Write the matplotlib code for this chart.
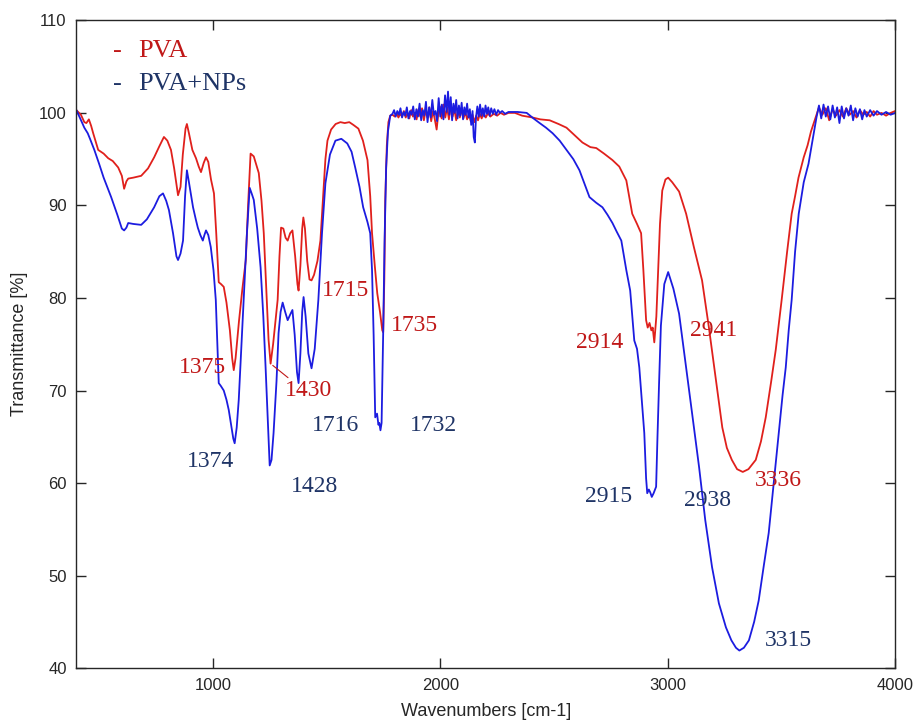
"""
FTIR spectra of PVA and PVA+NPs films
"""

import numpy as np
import matplotlib.pyplot as plt

# PVA spectrum (wavenumber, transmittance)
pva_wn = [
    400, 420, 435, 444, 455, 465, 474, 496, 520, 540, 560, 584, 600, 610, 620, 628,
    650, 685, 715, 742, 765, 785, 800, 816, 830, 847, 858, 868, 880, 886, 895, 910,
    926, 938, 948, 960, 970, 980, 992, 1005, 1015, 1026, 1036, 1048, 1060, 1075,
    1085, 1092, 1100, 1115, 1130, 1145, 1155, 1166, 1180, 1190, 1202, 1214, 1224,
    1235, 1245, 1254, 1265, 1285, 1293, 1300, 1310, 1320, 1329, 1340, 1350, 1362,
    1372, 1377, 1385, 1393, 1398, 1405, 1415, 1425, 1434, 1445, 1460, 1473, 1485,
    1495, 1504, 1520, 1540, 1561, 1580, 1600, 1618, 1640, 1660, 1680, 1692, 1700,
    1712, 1723, 1735, 1745, 1749, 1754, 1758, 1765, 1772, 1780,
    1790, 1800, 1808, 1816, 1824, 1832, 1840, 1848, 1856, 1864, 1872, 1880, 1888,
    1896, 1904, 1912, 1920, 1928, 1936, 1944, 1952, 1960, 1968, 1976, 1984, 1990,
    1998, 2006, 2014, 2022, 2030, 2038, 2046, 2054, 2062, 2070, 2078, 2086, 2094,
    2102, 2110, 2118, 2126, 2134, 2142, 2150, 2158, 2166, 2174, 2182, 2190, 2200,
    2210, 2220, 2235, 2250, 2265, 2280, 2300, 2328, 2360, 2406, 2440,
    2481, 2520, 2555, 2590, 2625, 2660, 2686, 2720, 2757, 2787, 2818, 2844, 2865,
    2883, 2893, 2905, 2912, 2920, 2928, 2934, 2941, 2950, 2958, 2966, 2976, 2990,
    3002, 3020, 3050, 3081, 3115, 3151, 3180, 3212, 3240, 3260, 3282, 3305, 3330,
    3355, 3387, 3410, 3431, 3455, 3475, 3501, 3525, 3545, 3560, 3575, 3598, 3615,
    3630, 3650, 3665, 3680, 3695, 3710, 3725, 3740, 3755, 3770, 3785, 3800, 3815,
    3830, 3845, 3860, 3875, 3890, 3905, 3920, 3940, 3960, 3980, 4000,
]
pva_t = [
    100.3, 99.8, 99.0, 98.9, 99.3, 98.6, 97.8, 96.0, 95.6, 95.1, 94.8, 94.1, 93.2,
    91.8, 92.6, 92.9, 93.0, 93.2, 94.0, 95.2, 96.4, 97.4, 97.0, 96.0, 94.0, 91.1,
    92.0, 95.5, 98.3, 98.8, 97.8, 96.0, 95.1, 94.2, 93.6, 94.6, 95.2, 94.7, 92.8,
    91.3, 87.0, 81.7, 81.5, 81.2, 79.5, 76.5, 73.5, 72.2, 73.5, 77.5, 81.0, 84.1,
    90.0, 95.6, 95.3, 94.5, 93.5, 90.5, 87.0, 81.0, 75.5, 72.9, 75.0, 79.8, 84.5,
    87.6, 87.5, 86.5, 86.2, 87.0, 87.3, 84.5, 81.5, 80.8, 83.5, 87.5, 88.7, 87.5,
    84.0, 82.0, 81.9, 82.5, 84.0, 86.2, 91.0, 95.0, 97.0, 98.2, 98.8, 99.0, 98.9,
    99.0, 98.7, 98.3, 97.0, 94.9, 91.0, 87.0, 83.5, 80.5, 78.5, 76.5, 76.3, 82.0,
    90.5, 96.5, 99.0, 99.7,
    99.8, 99.6, 100.0, 99.5, 99.9, 99.6, 100.2, 99.5, 100.0, 99.4, 100.3, 99.6,
    100.0, 99.3, 100.4, 99.6, 100.5, 99.2, 100.3, 99.5, 100.6, 99.1, 100.2, 99.3,
    98.2, 99.6, 100.7, 99.4, 100.9, 99.5, 100.6, 99.3, 100.8, 99.6, 100.4, 99.2,
    100.3, 99.5, 100.5, 99.4, 100.1, 99.3, 99.9, 99.1, 99.8, 99.0, 99.7, 99.2,
    99.9, 99.4, 100.0, 99.5, 100.0, 99.6, 99.9, 99.7, 100.0, 99.8, 100.0,
    100.0, 99.7, 99.5, 99.3, 99.2, 98.8, 98.4, 97.6, 96.8, 96.3, 96.2, 95.6, 94.9,
    94.2, 92.7, 89.1, 88.0, 87.0, 83.0, 77.6, 76.8, 77.3, 76.5, 76.8, 75.2, 78.0,
    83.0, 88.0, 91.6, 92.8, 93.0, 92.5, 91.5, 89.1, 85.5, 81.9, 77.0, 71.1, 66.0,
    63.8, 62.5, 61.5, 61.2, 61.5, 62.5, 64.5, 67.1, 71.0, 74.4, 79.8, 85.0, 89.1,
    91.0, 93.0, 95.2, 96.5, 98.0, 99.5, 100.6, 99.8, 100.5, 99.2, 100.4, 99.7,
    100.3, 99.6, 100.5, 99.8, 100.2, 99.5, 100.3, 99.8, 100.1, 99.6, 100.2, 99.8,
    100.0, 99.7, 100.0, 100.2,
]

# PVA+NPs spectrum
np_wn = [
    400, 415, 435, 450, 460, 479, 500, 520, 553, 580, 600, 610, 620, 628, 650, 685,
    710, 742, 765, 781, 795, 807, 825, 840, 847, 858, 869, 878, 886, 895, 913, 925,
    934, 945, 956, 963, 970, 980, 991, 1003, 1013, 1020, 1026, 1035, 1048, 1060,
    1070, 1082, 1090, 1096, 1105, 1114, 1125, 1136, 1150, 1162, 1172, 1180, 1195,
    1210, 1222, 1232, 1242, 1250, 1258, 1267, 1280, 1289, 1298, 1307, 1318, 1329,
    1340, 1350, 1360, 1370, 1377, 1385, 1393, 1399, 1408, 1420, 1434, 1448, 1464,
    1480, 1495, 1515, 1539, 1565, 1591, 1610, 1626, 1645, 1661, 1680, 1692, 1700,
    1707, 1714, 1722, 1728, 1732, 1737, 1742, 1749, 1755, 1762, 1770, 1780,
    1790, 1797, 1804, 1811, 1818, 1825, 1832, 1839, 1846, 1853, 1860, 1867, 1874,
    1881, 1888, 1895, 1902, 1909, 1916, 1923, 1930, 1937, 1944, 1951, 1958, 1965,
    1972, 1979, 1986, 1993, 2000, 2007, 2014, 2021, 2028, 2034, 2040, 2046, 2052,
    2058, 2064, 2070, 2076, 2082, 2088, 2094, 2100, 2106, 2112, 2118, 2124, 2130,
    2136, 2142, 2147, 2152, 2157, 2163, 2169, 2175, 2181, 2187, 2193, 2199, 2205,
    2211, 2217, 2224, 2231, 2238, 2246, 2254, 2262, 2272, 2285, 2300,
    2340, 2380, 2410, 2437, 2465, 2494, 2525, 2555, 2585,
    2612, 2635, 2656, 2685, 2713, 2735, 2757, 2775, 2796, 2818, 2835, 2853, 2865,
    2875, 2886, 2897, 2905, 2910, 2917, 2923, 2930, 2938, 2949, 2955, 2962, 2970,
    2985, 3002, 3025, 3050, 3081, 3110, 3138, 3165, 3195, 3225, 3256, 3280, 3300,
    3315, 3335, 3357, 3380, 3400, 3422, 3444, 3466, 3488, 3505, 3519, 3532, 3545,
    3560, 3576, 3598, 3619, 3635, 3654, 3665, 3675, 3685, 3695, 3705, 3715, 3725,
    3735, 3745, 3755, 3765, 3775, 3785, 3795, 3805, 3815, 3825, 3835, 3845, 3855,
    3865, 3875, 3890, 3905, 3920, 3940, 3960, 3980, 4000,
]
np_t = [
    100.3, 99.5, 98.4, 97.8, 97.2, 96.0, 94.5, 93.0, 90.9, 89.0, 87.5, 87.3, 87.6,
    88.1, 88.0, 87.9, 88.5, 89.8, 91.0, 91.3, 90.5, 89.5, 87.0, 84.5, 84.1, 84.8,
    86.2, 91.0, 93.8, 92.5, 89.8, 88.5, 87.6, 86.8, 86.2, 86.8, 87.3, 86.8, 85.5,
    83.0, 79.8, 75.0, 70.8, 70.5, 70.0, 69.0, 67.9, 66.0, 64.8, 64.3, 66.0, 69.0,
    74.5, 79.8, 87.0, 91.9, 91.2, 90.6, 87.5, 83.3, 78.0, 72.5, 66.5, 61.9, 62.5,
    65.4, 71.0, 76.2, 78.5, 79.5, 78.5, 77.6, 78.2, 78.7, 76.0, 72.0, 70.8, 74.0,
    78.5, 80.1, 78.0, 74.0, 72.4, 74.5, 79.8, 87.0, 92.4, 95.5, 97.0, 97.2, 96.7,
    95.8, 94.1, 92.0, 89.8, 88.2, 87.0, 83.0, 76.0, 67.1, 67.5, 66.3, 66.5, 65.7,
    66.5, 76.2, 86.0, 94.1, 98.0, 99.7,
    99.9, 100.3, 99.6, 100.2, 99.8, 100.5, 99.5, 100.1, 99.7, 100.6, 99.4, 100.2,
    99.8, 100.7, 99.3, 100.4, 99.6, 101.0, 99.2, 100.3, 99.7, 101.2, 99.0, 100.6,
    99.5, 101.4, 99.8, 100.2, 99.1, 101.6, 99.6, 100.9, 99.3, 101.9, 100.1, 102.3,
    99.8, 101.7, 99.2, 101.0, 100.0, 101.4, 99.4, 100.8, 99.7, 101.1, 99.3, 100.6,
    99.8, 101.0, 99.5, 100.4, 98.7, 100.2, 97.4, 96.8, 99.5, 100.7, 99.6, 100.9,
    99.7, 100.5, 99.6, 100.8, 99.9, 100.6, 99.7, 100.5, 99.9, 100.4, 99.8, 100.3,
    100.0, 100.2, 99.9, 100.1,
    100.1, 100.0, 99.4, 98.9, 98.4, 97.8, 97.0, 96.0, 95.0,
    93.8, 92.3, 90.9, 90.3, 89.8, 89.0, 88.1, 87.2,
    86.2, 83.0, 80.8, 75.4, 74.5, 72.5, 69.0, 65.4, 60.5, 58.9, 59.3, 59.0, 58.5,
    58.9, 59.6, 65.0, 70.8, 77.0, 81.5, 82.8, 81.0, 78.3, 72.5, 67.0, 61.7, 56.0,
    50.9, 47.0, 44.4, 43.0, 42.2, 41.9, 42.2, 43.0, 45.0, 47.3, 51.0, 54.6, 60.0,
    65.4, 69.5, 72.5, 76.5, 79.8, 85.0, 89.1, 92.5, 94.5, 96.8, 99.5, 100.8, 99.4,
    100.9, 99.6, 100.7, 99.3, 100.8, 99.5, 100.6, 98.9, 100.7, 99.4, 100.5, 99.7,
    100.8, 99.2, 100.5, 99.6, 100.4, 99.3, 100.3, 99.6, 100.3, 99.7, 100.2, 99.8,
    100.1, 99.8, 100.0,
]

# peak labels: text, x, y
pva_labels = ["1375", "1430", "1715", "1735", "2914", "2941", "3336"]
pva_lab_x = [956, 1421, 1583, 1885, 2700, 3203, 3488]
pva_lab_y = [72.5, 70.0, 80.8, 77.0, 75.2, 76.5, 60.3]
np_labels = ["1374", "1428", "1716", "1732", "2915", "2938", "3315"]
np_lab_x = [991, 1447, 1539, 1968, 2739, 3177, 3532]
np_lab_y = [62.3, 59.6, 66.2, 66.2, 58.5, 58.1, 43.0]

red_line = "#e0201c"
blue_line = "#1c1ce0"
red_text = "#c01818"
blue_text = "#1f3466"

fig = plt.figure(figsize=(9.2, 7.27), dpi=100)
ax = fig.add_axes([0.083, 0.081, 0.890, 0.891])

ax.plot(pva_wn, pva_t, color=red_line, lw=1.3)
ax.plot(np_wn, np_t, color=blue_line, lw=1.3)

serif = ["Liberation Serif", "DejaVu Serif"]
for s, x, y in zip(pva_labels, pva_lab_x, pva_lab_y):
    ax.text(x, y, s, color=red_text, fontsize=17, family=serif,
            ha="center", va="center")
for s, x, y in zip(np_labels, np_lab_x, np_lab_y):
    ax.text(x, y, s, color=blue_text, fontsize=17, family=serif,
            ha="center", va="center")

# thin leader from the 1430 label to its minimum
wn = np.array(pva_wn)
i_min = int(np.argmin(np.where((wn > 1200) & (wn < 1300), pva_t, 999)))
ax.annotate("", xy=(pva_wn[i_min], pva_t[i_min]), xytext=(1340, 71.2),
            arrowprops=dict(arrowstyle="-", color=red_text, lw=0.8))

# legend drawn as text, like the original
ax.text(0.045, 0.953, "-", color=red_text, fontsize=19, family=serif,
        transform=ax.transAxes, va="center")
ax.text(0.076, 0.953, "PVA", color=red_text, fontsize=19, family=serif,
        transform=ax.transAxes, va="center")
ax.text(0.045, 0.902, "-", color=blue_text, fontsize=19, family=serif,
        transform=ax.transAxes, va="center")
ax.text(0.076, 0.902, "PVA+NPs", color=blue_text, fontsize=19, family=serif,
        transform=ax.transAxes, va="center")

ax.set_xlim(400, 4000)
ax.set_ylim(40, 110)
ax.set_xticks([1000, 2000, 3000, 4000])
ax.set_yticks(range(40, 111, 10))
ax.tick_params(direction="in", top=True, right=True, length=7, width=1,
               labelsize=12, colors="#262626", pad=7)
for lab in ax.get_xticklabels() + ax.get_yticklabels():
    lab.set_family("Liberation Sans")
for sp in ax.spines.values():
    sp.set_color("#262626")
    sp.set_linewidth(1.0)

ax.set_xlabel("Wavenumbers [cm-1]", fontsize=13, family="Liberation Sans",
              color="#262626", labelpad=7)
ax.set_ylabel("Transmittance [%]", fontsize=13, family="Liberation Sans",
              color="#262626", labelpad=8)

fig.savefig("out.png", dpi=100)
plt.close()
